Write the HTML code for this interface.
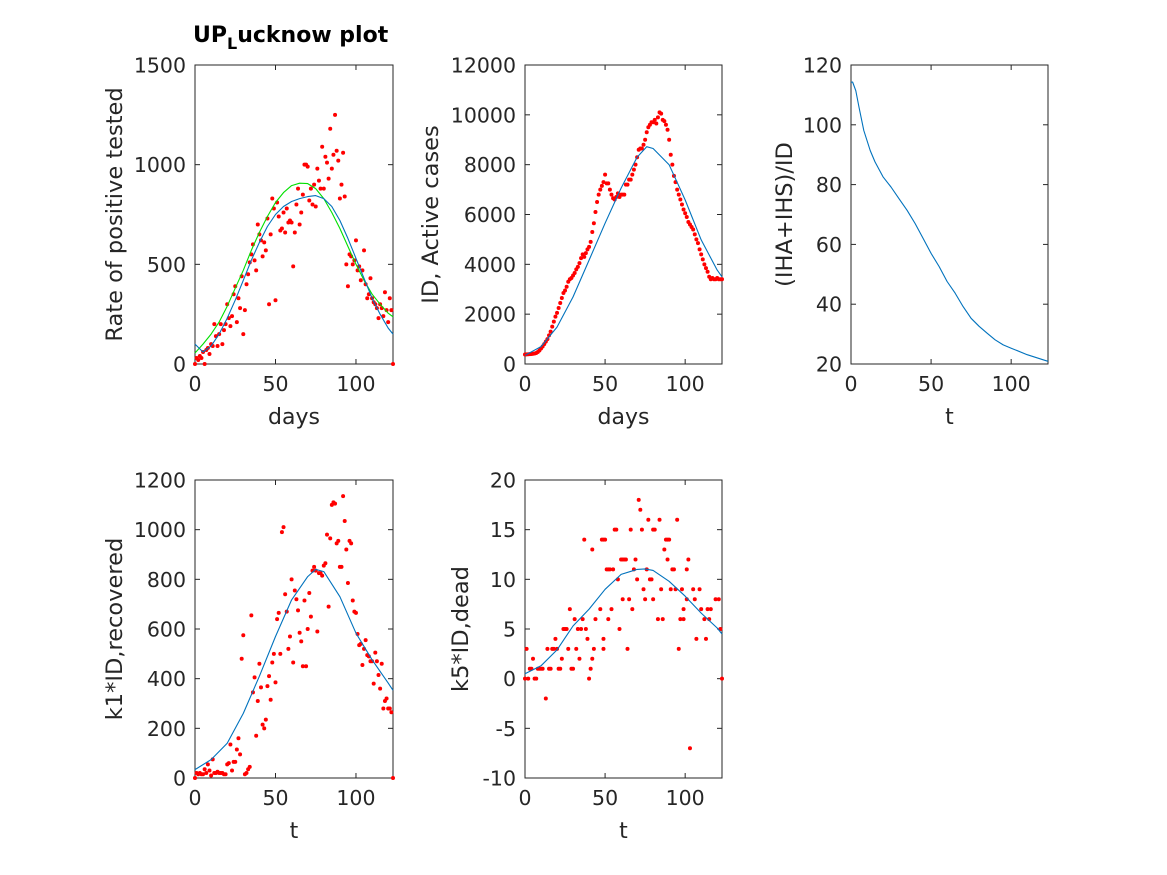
<!DOCTYPE html>
<html><head><meta charset="utf-8"><style>
body{margin:0;background:#fff}
svg{display:block;font-family:"DejaVu Sans","Liberation Sans",sans-serif}
</style></head><body>
<svg id="fig" width="1167" height="875" viewBox="0 0 1167 875" xmlns="http://www.w3.org/2000/svg">
<rect width="1167" height="875" fill="#fff"/>
<text x="193" y="42" text-anchor="start" font-size="22" font-weight="bold" fill="#000">UP<tspan font-size="16" dy="7">L</tspan><tspan dy="-7">ucknow plot</tspan></text>
</svg>
<script>
// ---- data ----
const xTicks = [0, 50, 100];
const rateValues = [0,30,20,40,30,60,0,70,80,50,100,90,200,140,90,150,200,100,170,200,300,230,190,240,350,390,210,330,280,440,150,270,400,450,510,550,600,520,470,700,650,620,540,610,570,730,300,650,830,780,320,810,740,670,680,760,660,780,710,720,710,490,660,800,880,700,760,850,1000,1000,990,820,880,800,900,790,980,920,880,1090,880,1040,1010,930,1180,980,1050,1250,1070,1020,830,900,1060,840,500,390,550,540,500,520,620,470,490,420,470,570,400,330,350,430,330,310,300,280,230,300,280,240,360,270,210,330,270,0];
const curveDays = [0,5,10,15,20,25,30,35,40,45,50,55,60,65,70,75,80,85,90,95,100,105,110,115,120,123];
const rateFitBlue = [100,60,90,150,230,320,420,520,610,690,750,790,815,830,840,845,830,790,720,630,530,430,330,250,180,150];
const rateFitGreen = [55,100,150,210,290,380,470,570,660,740,810,860,895,907,905,880,830,760,680,590,500,420,350,300,255,237];
const activeValues = [380,385,390,395,400,410,420,440,480,540,620,700,800,900,1000,1150,1300,1500,1700,1900,2050,2250,2450,2650,2850,2950,3100,3300,3400,3450,3550,3650,3800,3900,4050,4250,4400,4300,4450,4600,4700,4900,5300,5650,6100,6500,6800,7000,7150,7300,7600,7250,7250,7000,6800,6650,6600,6700,6850,6700,6800,6800,6800,7200,7200,7400,7400,7600,7800,8000,8300,8600,8650,8650,8800,9000,9300,9500,9600,9700,9700,9800,9650,9900,10100,10050,9800,9750,9600,9400,9000,8400,8000,7550,7300,7000,6800,6600,6400,6200,6050,5900,5700,5600,5500,5400,5200,5000,4850,4600,4400,4200,4000,3850,3700,3500,3400,3450,3400,3400,3450,3400,3400,3400];
const activeFitDays = [0,10,20,30,40,50,60,70,76,80,90,100,110,120,123];
const activeFit = [350,700,1480,2690,4170,5650,7060,8300,8720,8650,8000,6580,4980,3770,3500];
const ratioDays = [0,1,3,5,8,12,15,20,25,30,35,40,45,50,55,60,65,70,75,80,85,90,95,100,110,120,123];
const ratioValues = [114.2,114.3,111.4,105.9,98.1,91.4,87.6,82.6,79.2,75.3,71.4,67,62,57,52.6,47.6,43.7,39.2,35.3,32.6,30.3,28.1,26.4,25.3,23.1,21.4,20.9];
const recoveredValues = [0,20,15,20,15,15,35,20,55,30,10,75,20,20,25,20,20,20,15,15,55,60,135,30,65,65,115,160,95,480,575,15,20,35,45,655,345,405,170,310,460,365,215,200,235,370,410,315,465,500,385,640,665,500,990,1010,740,670,520,570,800,465,755,720,675,585,550,450,715,450,600,745,650,835,850,835,590,825,825,815,855,865,980,690,965,1100,1110,1105,945,955,850,850,1135,1035,920,785,955,945,715,670,665,580,535,540,455,520,555,495,490,470,470,380,505,470,415,360,460,280,310,320,280,280,265,0];
const recFitDays = [0,10,20,30,40,50,60,70,75,80,90,100,110,120,123];
const recFit = [34,74,140,260,410,570,717,811,840,831,730,583,476,382,353];
const deadDays = [0,2,6,7,123,13,103,1,14,17,18,20,27,32,43,49,64,96,3,4,8,9,10,11,15,16,21,22,29,30,41,5,23,34,42,40,19,39,49,107,113,24,25,26,33,35,38,59,122,31,36,44,52,83,86,97,99,112,115,28,47,54,67,99,110,114,116,61,65,75,80,101,106,119,121,74,85,91,94,98,105,109,58,70,78,79,51,52,53,55,68,76,92,93,101,60,61,62,63,69,89,102,42,87,37,48,49,50,88,89,90,56,57,66,73,80,81,77,84,95,72,71];
const deadValues = [0,0,0,0,0,-2,-7,3,3,3,3,3,3,3,3,3,3,3,1,1,1,1,1,1,1,1,1,1,1,1,1,2,2,2,2,0,4,4,4,4,4,5,5,5,5,5,5,5,5,6,6,6,6,6,6,6,6,6,6,7,7,7,7,7,7,7,7,8,8,8,8,8,8,8,8,9,9,9,9,9,9,9,10,10,10,10,11,11,11,11,11,11,11,11,11,12,12,12,12,12,12,12,13,13,14,14,14,14,14,14,14,15,15,15,15,15,15,16,16,16,17,18];
const deadFitDays = [0,10,20,30,40,50,60,70,75,80,90,100,110,120,123];
const deadFit = [0.5,1.3,2.9,5.3,7,9,10.5,11,11.05,10.9,9.8,8.3,6.6,5.1,4.5];

const svg = document.getElementById('fig');
const NS = 'http://www.w3.org/2000/svg';
function mk(tag, attrs, parent){const e=document.createElementNS(NS,tag);for(const k in attrs)e.setAttribute(k,attrs[k]);(parent||svg).appendChild(e);return e;}

function makeAxes(name, L, R, T, B, ymin, ymax, yTicks, ylabel, xlabel, ylabX){
  const g = mk('g',{});
  
  
  const sx = d => L + (d/123)*(R-L);
  const sy = v => B - (v-ymin)/(ymax-ymin)*(B-T);
  const frame = mk('rect',{x:L,y:T,width:R-L,height:B-T,fill:'none',stroke:'#262626','stroke-width':1},g);
  
  
  xTicks.forEach(t=>{
    const x=sx(t);
    mk('line',{x1:x,y1:B,x2:x,y2:B-5,stroke:'#262626'},g);
    mk('line',{x1:x,y1:T,x2:x,y2:T+5,stroke:'#262626'},g);
    const tx=mk('text',{x:x,y:B+27,'text-anchor':'middle','font-size':20.5,fill:'#262626'},g);
    tx.textContent=t;
    
    
  });
  yTicks.forEach(t=>{
    const y=sy(t);
    mk('line',{x1:L,y1:y,x2:L+5,y2:y,stroke:'#262626'},g);
    mk('line',{x1:R,y1:y,x2:R-5,y2:y,stroke:'#262626'},g);
    const tx=mk('text',{x:L-9,y:y+7.5,'text-anchor':'end','font-size':20.5,fill:'#262626'},g);
    tx.textContent=t;
    
    
  });
  const yl=mk('text',{x:ylabX,y:(T+B)/2,'text-anchor':'middle','font-size':22.5,fill:'#262626',transform:`rotate(-90 ${ylabX} ${(T+B)/2})`},g);
  yl.textContent=ylabel;
  
  
  const xl=mk('text',{x:(L+R)/2,y:B+60,'text-anchor':'middle','font-size':22,fill:'#262626'},g);
  xl.textContent=xlabel;
  
  
  return {g,sx,sy};
}
function line(ax, xs, ys, color, name){
  const pts = xs.map((d,i)=>ax.sx(d).toFixed(1)+','+ax.sy(ys[i]).toFixed(1)).join(' ');
  const p = mk('polyline',{points:pts,fill:'none',stroke:color,'stroke-width':1.1,'stroke-linejoin':'round'},ax.g);
  
  
}
function dots(ax, xs, ys, name){
  xs.forEach((d,i)=>{
    const c = mk('circle',{cx:ax.sx(d),cy:ax.sy(ys[i]),r:2,fill:'#ff0000'},ax.g);
    
    
  });
}
const idx = arr => arr.map((_,i)=>i);

const a1 = makeAxes('rate-positive-axes',195,393,65,364,0,1500,[0,500,1000,1500],'Rate of positive tested','days',122);
dots(a1, idx(rateValues), rateValues, 'rate-point');
line(a1, curveDays, rateFitGreen, '#00e000', 'rate-fit-green');
line(a1, curveDays, rateFitBlue, '#0072bd', 'rate-fit-blue');

const a2 = makeAxes('active-cases-axes',525,722,65,364,0,12000,[0,2000,4000,6000,8000,10000,12000],'ID, Active cases','days',438);
dots(a2, idx(activeValues), activeValues, 'active-point');
line(a2, activeFitDays, activeFit, '#0072bd', 'active-fit');

const a3 = makeAxes('ratio-axes',851,1048,65,364,20,120,[20,40,60,80,100,120],'(IHA+IHS)/ID','t',792);
line(a3, ratioDays, ratioValues, '#0072bd', 'ratio-line');

const a4 = makeAxes('recovered-axes',195,393,480,778,0,1200,[0,200,400,600,800,1000,1200],'k1*ID,recovered','t',122);
dots(a4, idx(recoveredValues), recoveredValues, 'recovered-point');
line(a4, recFitDays, recFit, '#0072bd', 'recovered-fit');

const a5 = makeAxes('dead-axes',525,722,480,778,-10,20,[-10,-5,0,5,10,15,20],'k5*ID,dead','t',468);
dots(a5, deadDays, deadValues, 'dead-point');
line(a5, deadFitDays, deadFit, '#0072bd', 'dead-fit');
</script>
</body></html>
